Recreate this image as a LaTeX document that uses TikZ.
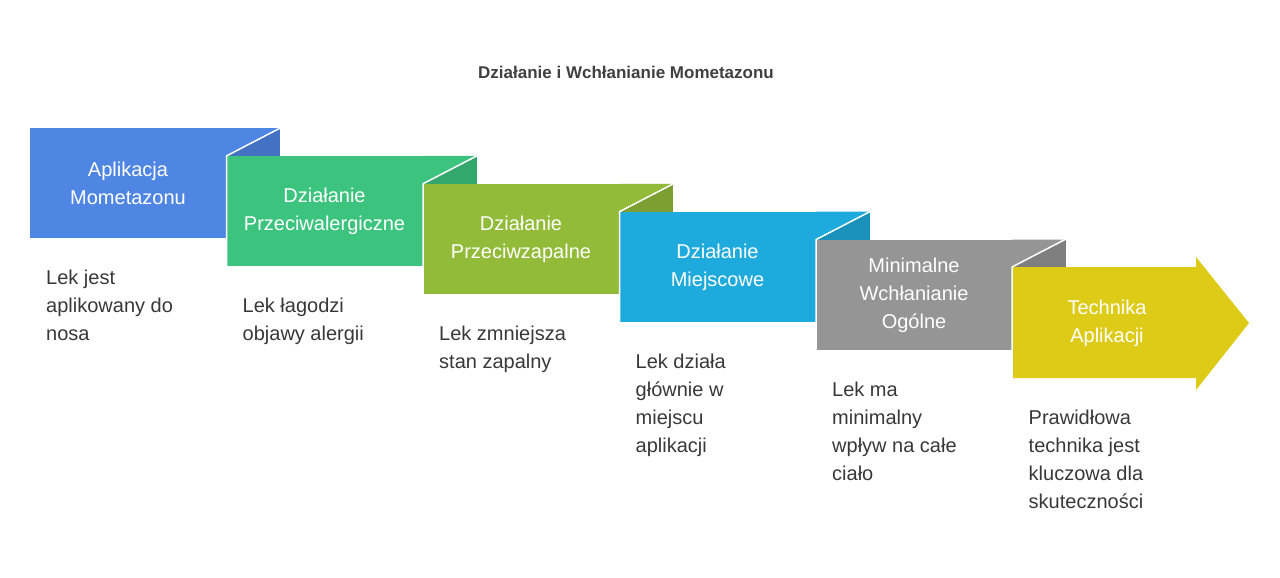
\documentclass[tikz,border=0pt]{standalone}
\usepackage{fontspec}
\setmainfont{Liberation Sans}
\begin{document}
\begin{tikzpicture}[x=1pt,y=-1pt,
 lbl/.style={text=white,font=\fontsize{20}{28}\selectfont,align=center},
 desc/.style={text=black!78,font=\fontsize{20}{28}\selectfont,align=left,anchor=north west,inner sep=0pt},
 sep/.style={draw=white,line width=1.5pt}]
\useasboundingbox (0,0) rectangle (1280,578);
\definecolor{c1}{HTML}{4F86E4}\definecolor{c2}{HTML}{3CC47F}\definecolor{c3}{HTML}{93BB3A}
\definecolor{c4}{HTML}{1EAADC}\definecolor{c5}{HTML}{959595}\definecolor{c6}{HTML}{DDCB17}
\node[font=\bfseries\fontsize{17}{20}\selectfont,text=black!75] (title) at (626,72) {Działanie i Wchłanianie Mometazonu};
\foreach \i/\c in {0/c1,1/c2,2/c3,3/c4,4/c5}{
 \pgfmathsetmacro\xl{30+196.5*\i}\pgfmathsetmacro\yt{128+27.9*\i}
 \fill[\c!85!black] (\xl+196,\yt) rectangle (\xl+250,\yt+28);
 \fill[\c] (\xl,\yt) rectangle (\xl+196,\yt+110);
 \fill[\c] (\xl+196,\yt) -- (\xl+250,\yt) -- (\xl+196,\yt+28) -- cycle;
}
\foreach \i/\c in {1/c2,2/c3,3/c4,4/c5}{
 \pgfmathsetmacro\xl{30+196.5*\i}\pgfmathsetmacro\yt{128+27.9*\i}
 \draw[sep] (\xl+54,\yt-28) -- (\xl,\yt) -- (\xl,\yt+110);
}
\fill[c6] (1012,267) -- (1196,267) -- (1196,257) -- (1249,323) -- (1196,390) -- (1196,378) -- (1012,378) -- cycle;
\draw[sep] (1066,239) -- (1012,267) -- (1012,378);
\node[lbl] (s1) at (128,183) {Aplikacja\\Mometazonu};
\node[lbl] (s2) at (324.5,211) {Działanie\\Przeciwalergiczne};
\node[lbl] (s3) at (521,239) {Działanie\\Przeciwzapalne};
\node[lbl] (s4) at (717.5,267) {Działanie\\Miejscowe};
\node[lbl] (s5) at (914,295) {Minimalne\\Wchłanianie\\Ogólne};
\node[lbl] (s6) at (1107,323) {Technika\\Aplikacji};
\node[desc] (d1) at (46,270) {Lek jest\\aplikowany do\\nosa};
\node[desc] (d2) at (242.5,298) {Lek łagodzi\\objawy alergii};
\node[desc] (d3) at (439,326) {Lek zmniejsza\\stan zapalny};
\node[desc] (d4) at (635.5,354) {Lek działa\\głównie w\\miejscu\\aplikacji};
\node[desc] (d5) at (832,382) {Lek ma\\minimalny\\wpływ na całe\\ciało};
\node[desc] (d6) at (1028.5,410) {Prawidłowa\\technika jest\\kluczowa dla\\skuteczności};
\end{tikzpicture}
\end{document}
